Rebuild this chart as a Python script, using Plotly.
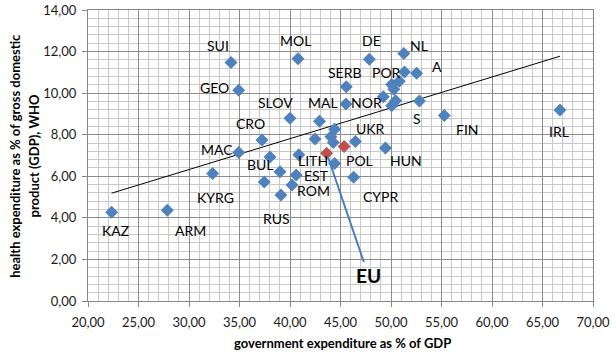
import numpy as np
import plotly.graph_objects as go

# ---- data ----
gov_exp = [22.34, 27.85, 32.34, 34.16, 34.92, 34.92, 37.23, 38.02, 37.45, 39.01,
           39.10, 40.20, 40.61, 40.87, 40.00, 40.79, 42.92, 42.48, 44.42, 44.05,
           44.29, 44.42, 46.30, 46.47, 49.45, 45.57, 45.54, 47.85, 51.27, 51.34,
           52.54, 50.82, 50.07, 50.28, 49.24, 50.46, 50.07, 52.81, 55.28, 66.73]
health_exp = [4.27, 4.36, 6.14, 11.47, 10.14, 7.14, 7.75, 6.93, 5.72, 6.22,
              5.10, 5.58, 6.06, 7.04, 8.79, 11.66, 8.65, 7.79, 8.26, 7.90,
              7.63, 6.62, 5.95, 7.67, 7.36, 10.31, 9.48, 11.63, 11.91, 11.02,
              10.96, 10.57, 10.41, 10.19, 9.83, 9.63, 9.39, 9.62, 8.92, 9.19]

eu_gov = [43.63, 45.36]
eu_health = [7.11, 7.43]

label_text = ["SUI", "MOL", "GEO", "SLOV", "MAL", "CRO", "MAC", "BUL", "LITH", "EST",
              "ROM", "KYRG", "RUS", "KAZ", "ARM", "DE", "NL", "SERB", "POR", "A",
              "NOR", "UKR", "S", "FIN", "IRL", "POL", "HUN", "CYPR"]
label_x = [32.87, 40.50, 32.57, 38.61, 43.24, 36.04, 32.77, 37.03, 42.31, 42.64,
           42.31, 32.67, 38.68, 22.77, 30.17, 48.02, 52.80, 45.45, 49.58, 54.58,
           47.53, 47.99, 52.54, 57.55, 66.66, 46.93, 51.49, 48.99]
label_y = [12.29, 12.53, 10.26, 9.56, 9.56, 8.55, 7.31, 6.59, 6.78, 6.06,
           5.31, 4.97, 3.98, 3.38, 3.38, 12.51, 12.29, 11.00, 11.00, 11.28,
           9.56, 8.31, 8.79, 8.23, 8.15, 6.78, 6.78, 5.02]

eu_label = "EU"
eu_label_pos = (47.75, 1.25)

x_title = "government expenditure as % of GDP"
y_title_1 = "health expenditure as % of gross domestic"
y_title_2 = "product (GDP), WHO"

FONT = "Lato"

# linear trendline through the country points
slope, intercept = np.polyfit(gov_exp, health_exp, 1)
trend_x = np.array([min(gov_exp), max(gov_exp)])
trend_y = slope * trend_x + intercept

fig = go.Figure()

fig.add_trace(go.Scatter(x=trend_x, y=trend_y, mode="lines",
                         line=dict(color="#000000", width=1), hoverinfo="skip",
                         showlegend=False))
fig.add_trace(go.Scatter(x=gov_exp, y=health_exp, mode="markers",
                         marker=dict(symbol="diamond", size=10, color="#4F81BD"),
                         showlegend=False))
fig.add_trace(go.Scatter(x=eu_gov, y=eu_health, mode="markers",
                         marker=dict(symbol="diamond", size=10, color="#C0504D"),
                         showlegend=False))

annotations = []
for t, x, y in zip(label_text, label_x, label_y):
    annotations.append(dict(x=x, y=y, xref="x", yref="y", text=t, showarrow=False,
                            font=dict(family=FONT, size=14, color="#000000"),
                            xanchor="center", yanchor="middle", borderpad=0))

# EU label with pointer line to the EU marker
annotations.append(dict(x=eu_gov[0], y=eu_health[0], xref="x", yref="y",
                        ax=eu_label_pos[0], ay=eu_label_pos[1], axref="x", ayref="y",
                        text="<b>%s</b>" % eu_label, showarrow=True, arrowhead=0,
                        arrowwidth=2, arrowcolor="#4A7EBB", standoff=4,
                        font=dict(family=FONT, size=19, color="#000000")))

# y-axis title (two lines)
annotations.append(dict(x=-0.146, y=0.5, xref="paper", yref="paper",
                        text="<b>%s</b>" % y_title_1, textangle=-90, showarrow=False,
                        font=dict(family=FONT, size=13, color="#000000"),
                        xanchor="center", yanchor="middle"))
annotations.append(dict(x=-0.107, y=0.5, xref="paper", yref="paper",
                        text="<b>%s</b>" % y_title_2, textangle=-90, showarrow=False,
                        font=dict(family=FONT, size=13, color="#000000"),
                        xanchor="center", yanchor="middle"))
# x-axis title
annotations.append(dict(x=0.503, y=-0.145, xref="paper", yref="paper",
                        text="<b>%s</b>" % x_title, showarrow=False,
                        font=dict(family=FONT, size=13, color="#000000"),
                        xanchor="center", yanchor="middle"))

fig.update_layout(
    width=616, height=355,
    margin=dict(l=88, r=23, t=10, b=54, autoexpand=False),
    plot_bgcolor="white", paper_bgcolor="white",
    separators=",.",
    font=dict(family=FONT, size=13, color="#000000"),
    annotations=annotations,
    showlegend=False,
)

axis_common = dict(showline=True, linecolor="#868686", linewidth=1, mirror=True,
                   showgrid=True, gridcolor="#8C8C8C", gridwidth=1,
                   ticks="outside", ticklen=5, tickcolor="#868686",
                   tickformat=".2f", zeroline=False, automargin=False,
                   tickfont=dict(family=FONT, size=13, color="#1A1A1A"))

fig.update_xaxes(range=[20, 70], dtick=5, tick0=20,
                 minor=dict(dtick=1, showgrid=True, gridcolor="#C8C8C8", gridwidth=1),
                 ticklabelstandoff=4, **axis_common)
fig.update_yaxes(range=[0, 14], dtick=2, tick0=0,
                 minor=dict(dtick=0.4, showgrid=True, gridcolor="#C8C8C8", gridwidth=1),
                 ticklabelstandoff=3, **axis_common)

fig.write_html("out.html", config={"displayModeBar": False},
               post_script="document.body.style.margin='0';document.body.style.overflow='hidden';")
